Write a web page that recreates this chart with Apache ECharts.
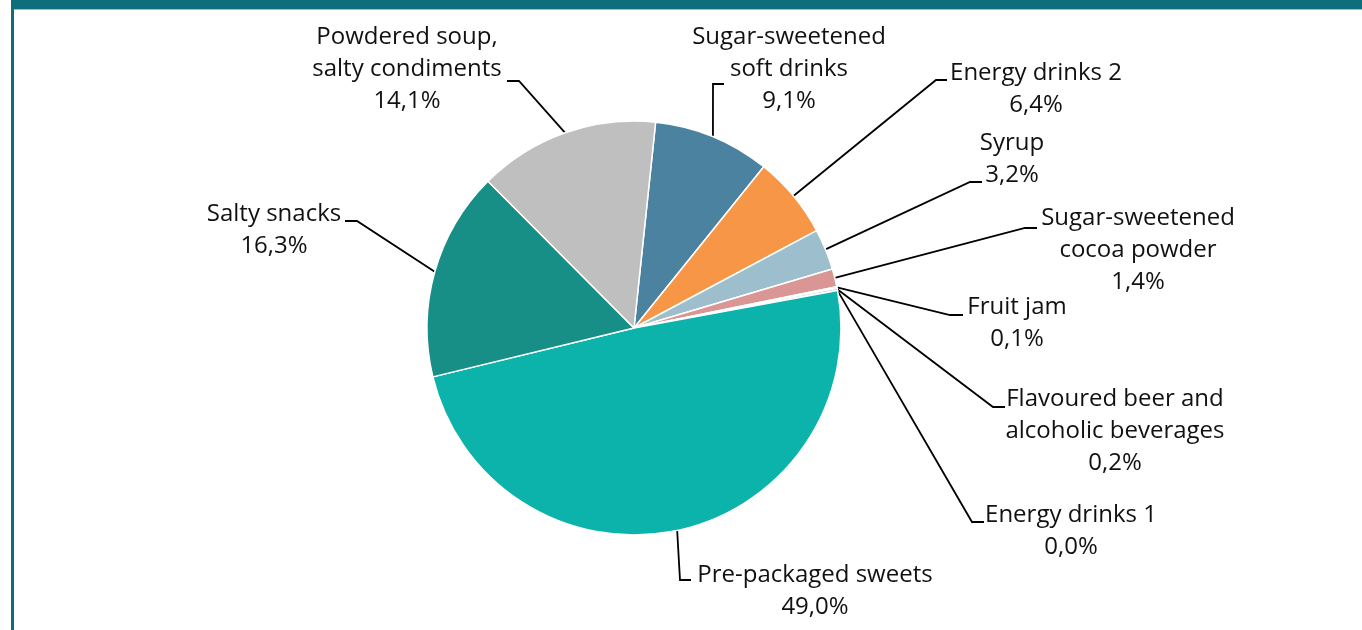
<!DOCTYPE html>
<html>
<head>
<meta charset="utf-8">
<style>
  html, body { margin: 0; padding: 0; background: #ffffff; }
  #chart { width: 1362px; height: 630px; }
</style>
<script src="https://cdn.jsdelivr.net/npm/echarts@6/dist/echarts.min.js"></script>
</head>
<body>
<div id="chart"></div>
<script>
// Product groups, clockwise from the top of the pie
const categories = [
  'Sugar-sweetened\nsoft drinks',
  'Energy drinks 2',
  'Syrup',
  'Sugar-sweetened\ncocoa powder',
  'Fruit jam',
  'Flavoured beer and\nalcoholic beverages',
  'Energy drinks 1',
  'Pre-packaged sweets',
  'Salty snacks',
  'Powdered soup,\nsalty condiments'
];
// Share of products (%)
const shares = [9.1, 6.4, 3.2, 1.4, 0.1, 0.2, 0.0, 49.0, 16.3, 14.1];

const sliceColors = [
  '#4a82a0', '#f79646', '#9dbfcd', '#d99694', '#b5a3d0',
  '#d7d0e8', '#8db3c7', '#0cb3ab', '#178f87', '#bfbfbf'
];

// Pie geometry (px) and where each label block sits, with its leader elbow and end
const PIE_CX = 634, PIE_CY = 328, PIE_R = 207, START_ANGLE = 84;
const labelAnchors = [
  { x: 789,  y: 21,  elbow: [713, 84],  end: [724, 84] },
  { x: 1036, y: 57,  elbow: [936, 80],  end: [947, 80] },
  { x: 1012, y: 127, elbow: [970, 182], end: [982, 182] },
  { x: 1138, y: 202, elbow: [1025, 228], end: [1037, 228] },
  { x: 1017, y: 291, elbow: [950, 315], end: [963, 315] },
  { x: 1115, y: 383, elbow: [993, 407], end: [1005, 407] },
  { x: 1071, y: 499, elbow: [972, 522], end: [984, 522] },
  { x: 815,  y: 559, elbow: [680, 580], end: [691, 580] },
  { x: 274,  y: 198, elbow: [357, 221], end: [345, 221] },
  { x: 407,  y: 21,  elbow: [519, 81],  end: [507, 81] }
];

const total = shares.reduce((s, v) => s + v, 0);
function sliceEdgePoint(i) {
  let before = 0;
  for (let k = 0; k < i; k++) before += shares[k];
  const mid = (START_ANGLE - (before + shares[i] / 2) / total * 360) * Math.PI / 180;
  return [PIE_CX + PIE_R * Math.cos(mid), PIE_CY - PIE_R * Math.sin(mid)];
}

const chart = echarts.init(document.getElementById('chart'), null, { renderer: 'canvas' });
chart.setOption({
  animation: false,
  backgroundColor: '#ffffff',
  graphic: [
    { type: 'rect', shape: { x: 11, y: 0, width: 1351, height: 9 }, style: { fill: '#0e6e7b' } },
    { type: 'rect', shape: { x: 11, y: 9, width: 1351, height: 1 }, style: { fill: '#8fc3ca' } },
    { type: 'rect', shape: { x: 11, y: 0, width: 3, height: 630 }, style: { fill: '#0e6e7b' } }
  ],
  series: [{
    type: 'pie',
    center: [PIE_CX, PIE_CY],
    radius: PIE_R,
    startAngle: START_ANGLE,
    clockwise: true,
    avoidLabelOverlap: false,
    itemStyle: { borderColor: '#ffffff', borderWidth: 1.5 },
    label: {
      show: true,
      position: 'outside',
      fontFamily: 'Open Sans',
      fontSize: 24,
      lineHeight: 32,
      color: '#111111',
      align: 'center',
      formatter: p => p.name + '\n' + p.value.toFixed(1).replace('.', ',') + '%'
    },
    labelLine: {
      show: true,
      lineStyle: { color: '#000000', width: 1.8 }
    },
    labelLayout: function (p) {
      const a = labelAnchors[p.dataIndex];
      return {
        x: a.x,
        y: a.y,
        align: 'center',
        verticalAlign: 'top',
        labelLinePoints: [sliceEdgePoint(p.dataIndex), a.elbow, a.end]
      };
    },
    emphasis: { disabled: true },
    data: categories.map((name, i) => ({
      name: name,
      value: shares[i],
      itemStyle: { color: sliceColors[i] }
    }))
  }]
});
</script>
</body>
</html>
